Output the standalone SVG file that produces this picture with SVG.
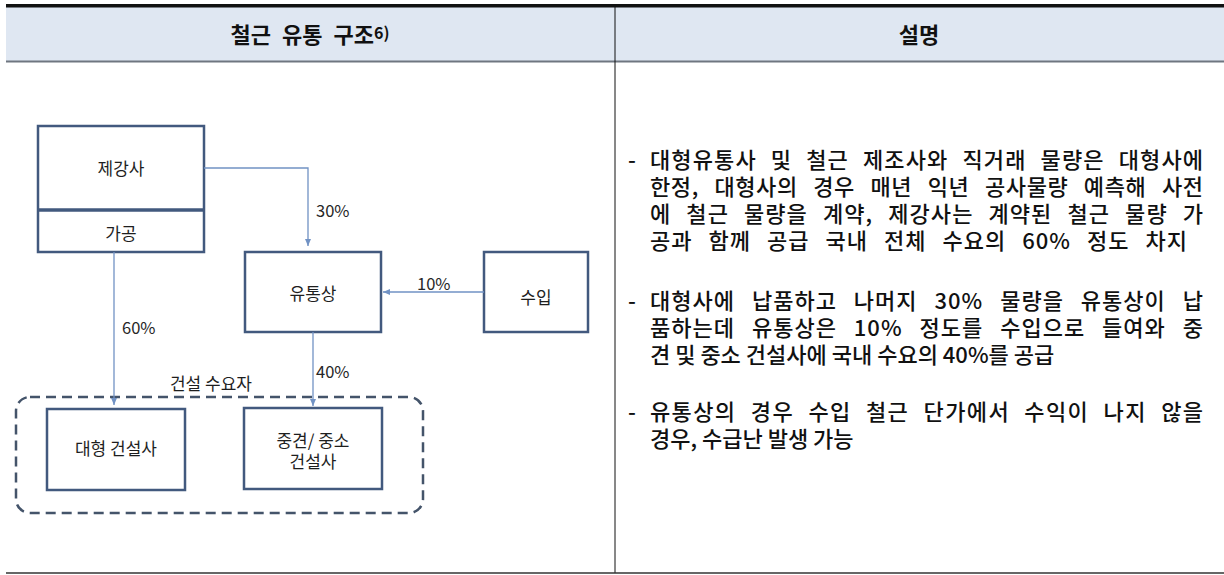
<svg xmlns="http://www.w3.org/2000/svg" width="1224" height="575" viewBox="0 0 1224 575">
<style>
.box{fill:#fff;stroke:#42597e;stroke-width:2.5}
.lbl{font-family:"Noto Sans CJK KR","Noto Sans",sans-serif;font-size:17px;fill:#1e1e1e;text-anchor:middle;dominant-baseline:central}
.pct{font-family:"Noto Sans CJK KR","Noto Sans",sans-serif;font-size:16.5px;fill:#262626;dominant-baseline:central}
.conn{fill:none;stroke:#7192c4;stroke-width:1.3}
.hdr{font-family:"Noto Sans CJK KR","Noto Sans",sans-serif;font-size:22px;font-weight:bold;fill:#111;text-anchor:middle;dominant-baseline:central}
.body{font-family:"Noto Sans CJK KR","Noto Sans",sans-serif;font-size:22px;font-weight:500;fill:#111}
</style>
<defs>
<marker id="ah" markerUnits="userSpaceOnUse" markerWidth="8" markerHeight="8" refX="7" refY="4" orient="auto">
<path d="M0,1 L7,4 L0,7 Z" fill="#7192c4"/>
</marker>
</defs>
<g id="table">
<rect x="6" y="7" width="1218" height="54" fill="#dfe7f2"/>
<rect x="6" y="4" width="1218" height="3.5" fill="#111"/>
<line x1="6" y1="61.5" x2="1224" y2="61.5" stroke="#6f7680" stroke-width="2"/>
<line x1="615" y1="7" x2="615" y2="573" stroke="#111" stroke-width="1"/>
<line x1="6" y1="573" x2="1224" y2="573" stroke="#333" stroke-width="1.5"/>
<text class="hdr" x="310" y="33" word-spacing="6">철근 유통 구조<tspan font-size="16" dy="-1">6)</tspan></text>
<text class="hdr" x="919" y="33">설명</text>
</g>
<g id="group-demand">
<rect x="16" y="397" width="407" height="116" rx="14" fill="none" stroke="#44546a" stroke-width="2.5" stroke-dasharray="10 6"/>
<text class="lbl" x="211" y="382">건설 수요자</text>
</g>
<g id="node-jegangsa">
<rect class="box" x="38" y="126" width="166" height="126"/>
<line x1="38" y1="210" x2="204" y2="210" stroke="#42597e" stroke-width="3.5"/>
<text class="lbl" x="121" y="167">제강사</text>
<text class="lbl" x="121" y="232">가공</text>
</g>
<g id="node-yutongsang">
<rect class="box" x="245" y="252" width="136" height="80"/>
<text class="lbl" x="313" y="292">유통상</text>
</g>
<g id="node-suip">
<rect class="box" x="484" y="252" width="104" height="80"/>
<text class="lbl" x="536" y="296">수입</text>
</g>
<g id="node-daehyeong">
<rect class="box" x="47" y="409" width="138" height="81"/>
<text class="lbl" x="116" y="447">대형 건설사</text>
</g>
<g id="node-junggyeon">
<rect class="box" x="244" y="408" width="138" height="81"/>
<text class="lbl"><tspan x="313" y="439">중견/ 중소</tspan><tspan x="313" y="460">건설사</tspan></text>
</g>
<g id="connectors">
<path class="conn" d="M204,168 H308 V246" marker-end="url(#ah)"/>
<path class="conn" d="M484,292 H383" marker-end="url(#ah)"/>
<path class="conn" d="M114,252 V405" marker-end="url(#ah)"/>
<path class="conn" d="M313,332 V406" marker-end="url(#ah)"/>
<text class="pct" x="316" y="210">30%</text>
<text class="pct" x="417" y="283">10%</text>
<text class="pct" x="122" y="327">60%</text>
<text class="pct" x="316" y="371">40%</text>
</g>
<g id="description">
<text class="body"><tspan x="628" y="168">-</tspan><tspan x="650" y="168" word-spacing="8" textLength="553" lengthAdjust="spacing">대형유통사 및 철근 제조사와 직거래 물량은 대형사에</tspan><tspan x="650" y="195" word-spacing="10" textLength="553" lengthAdjust="spacing">한정, 대형사의 경우 매년 익년 공사물량 예측해 사전</tspan><tspan x="650" y="222" word-spacing="9" textLength="553" lengthAdjust="spacing">에 철근 물량을 계약, 제강사는 계약된 철근 물량 가</tspan><tspan x="650" y="249" word-spacing="10" textLength="537" lengthAdjust="spacing">공과 함께 공급 국내 전체 수요의 60% 정도 차지</tspan></text>
<text class="body"><tspan x="628" y="309">-</tspan><tspan x="650" y="309" word-spacing="11" textLength="553" lengthAdjust="spacing">대형사에 납품하고 나머지 30% 물량을 유통상이 납</tspan><tspan x="650" y="336" word-spacing="11" textLength="553" lengthAdjust="spacing">품하는데 유통상은 10% 정도를 수입으로 들여와 중</tspan><tspan x="650" y="363">견 및 중소 건설사에 국내 수요의 40%를 공급</tspan></text>
<text class="body"><tspan x="628" y="420">-</tspan><tspan x="650" y="420" word-spacing="8" textLength="553" lengthAdjust="spacing">유통상의 경우 수입 철근 단가에서 수익이 나지 않을</tspan><tspan x="650" y="447">경우, 수급난 발생 가능</tspan></text>
</g>
</svg>
